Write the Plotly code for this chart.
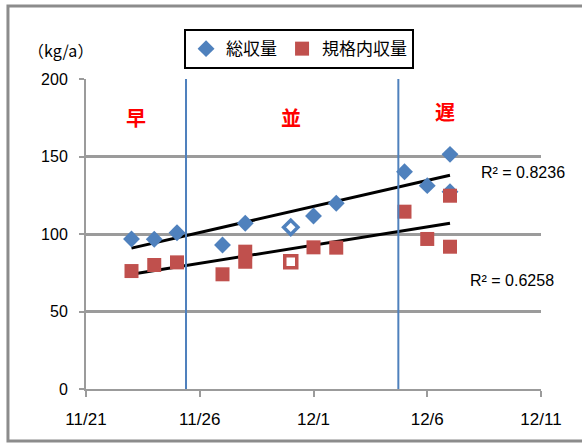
import numpy as np
import pandas as pd
import plotly.graph_objects as go

# --- data -----------------------------------------------------------------
YEAR = 2013
total_dates = ["11-23", "11-24", "11-25", "11-27", "11-28", "12-01", "12-02",
               "12-05", "12-06", "12-07", "12-07"]
total_yield = [96.8, 96.6, 100.8, 92.9, 106.9, 111.6, 119.8,
               140.2, 131.2, 151.4, 127.3]

std_dates = ["11-23", "11-24", "11-25", "11-27", "11-28", "11-28", "12-01",
             "12-02", "12-05", "12-06", "12-07", "12-07"]
std_yield = [76.1, 80.0, 81.7, 74.0, 88.6, 82.1, 91.4,
             91.2, 114.4, 96.8, 124.7, 91.8]

# reference plot (open markers)
ref_date = "11-30"
ref_total = 104.3
ref_std = 82.1

r2_total = "R² = 0.8236"
r2_std = "R² = 0.6258"

tick_dates = ["11-21", "11-26", "12-01", "12-06", "12-11"]
tick_labels = ["11/21", "11/26", "12/1", "12/6", "12/11"]

# boundaries between early / normal / late groups
group_bounds = ["11-25 09:30", "12-04 17:30"]
group_names = ["早", "並", "遅"]
group_label_pos = [("11-23 05:00", 175), ("11-30 00:00", 175), ("12-06 19:00", 179)]

y_ticks = [0, 50, 100, 150, 200]


def to_dt(s):
    return pd.Timestamp(f"{YEAR}-{s}")


BLUE = "#4F81BD"
RED = "#C0504D"
GRID = "#9B9B9B"
TICK_FONT = "Liberation Sans, Arial, sans-serif"
JP_FONT = "Noto Sans CJK JP, sans-serif"

tx = [to_dt(d) for d in total_dates]
sx = [to_dt(d) for d in std_dates]
origin = to_dt("11-21")


def trend(xs, ys):
    days = np.array([(x - origin) / pd.Timedelta(days=1) for x in xs])
    k, b = np.polyfit(days, np.array(ys), 1)
    d0, d1 = days.min(), days.max()
    return ([origin + pd.Timedelta(days=d0), origin + pd.Timedelta(days=d1)],
            [k * d0 + b, k * d1 + b])


fig = go.Figure()

# linear trend lines
for xs, ys in [(tx, total_yield), (sx, std_yield)]:
    lx, ly = trend(xs, ys)
    fig.add_trace(go.Scatter(x=lx, y=ly, mode="lines",
                             line=dict(color="black", width=3),
                             showlegend=False, hoverinfo="skip"))

fig.add_trace(go.Scatter(x=tx, y=total_yield, mode="markers", name="総収量",
                         marker=dict(symbol="diamond", size=13, color=BLUE)))
fig.add_trace(go.Scatter(x=sx, y=std_yield, mode="markers", name="規格内収量",
                         marker=dict(symbol="square", size=14, color=RED)))

fig.add_trace(go.Scatter(x=[to_dt(ref_date)], y=[ref_total], mode="markers",
                         showlegend=False,
                         marker=dict(symbol="diamond", size=11, color="white",
                                     line=dict(color=BLUE, width=3.5))))
fig.add_trace(go.Scatter(x=[to_dt(ref_date)], y=[ref_std], mode="markers",
                         showlegend=False,
                         marker=dict(symbol="square", size=12, color="white",
                                     line=dict(color=RED, width=3.5))))

shapes = []
for b in group_bounds:
    shapes.append(dict(type="line", xref="x", yref="y",
                       x0=to_dt(b), x1=to_dt(b), y0=0, y1=200,
                       line=dict(color=BLUE, width=2), layer="above"))

# outer frame (right edge runs off the page)
shapes.append(dict(type="rect", xref="paper", yref="paper",
                   x0=-0.1715, x1=1.25, y0=-0.1677, y1=1.2355,
                   line=dict(color="#8C8C8C", width=3), layer="below"))

annotations = []
for name, (d, yv) in zip(group_names, group_label_pos):
    annotations.append(dict(x=to_dt(d), y=yv, xref="x", yref="y", text=f"<b>{name}</b>",
                            showarrow=False, xanchor="center", yanchor="middle",
                            font=dict(family=JP_FONT, size=20, color="#FF0000")))

annotations.append(dict(x=to_dt("12-10 05:30"), y=139.4, xref="x", yref="y",
                        text=r2_total, showarrow=False,
                        xanchor="center", yanchor="middle",
                        font=dict(family=TICK_FONT, size=16, color="black")))
annotations.append(dict(x=to_dt("12-09 17:00"), y=69.7, xref="x", yref="y",
                        text=r2_std, showarrow=False,
                        xanchor="center", yanchor="middle",
                        font=dict(family=TICK_FONT, size=16, color="black")))
annotations.append(dict(x=-0.057, y=1.094, xref="paper", yref="paper",
                        text="（kg/a）", showarrow=False,
                        xanchor="center", yanchor="middle",
                        font=dict(family=JP_FONT, size=16, color="black")))

fig.update_layout(
    width=582, height=443,
    margin=dict(l=86, r=41, t=79, b=54),
    paper_bgcolor="white", plot_bgcolor="white",
    showlegend=True,
    legend=dict(orientation="h", x=0.2155, y=1.161, xanchor="left", yanchor="top",
                bordercolor="black", borderwidth=2, bgcolor="white",
                font=dict(family=JP_FONT, size=17, color="black"),
                itemwidth=30, tracegroupgap=0),
    shapes=shapes,
    annotations=annotations,
)

fig.update_xaxes(
    type="date",
    range=[to_dt("11-21"), to_dt("12-11")],
    tickvals=[to_dt(d) for d in tick_dates], ticktext=tick_labels,
    showgrid=False, zeroline=False,
    showline=True, linecolor=GRID, linewidth=2,
    ticks="outside", ticklen=6, tickwidth=2, tickcolor=GRID,
    ticklabelstandoff=8,
    tickfont=dict(family=TICK_FONT, size=17, color="black"),
)
fig.update_yaxes(
    range=[0, 200], tickvals=y_ticks,
    showgrid=True, gridcolor=GRID, gridwidth=2.5, zeroline=False,
    showline=True, linecolor=GRID, linewidth=2,
    ticks="outside", ticklen=5, tickwidth=2, tickcolor=GRID,
    ticklabelstandoff=8,
    tickfont=dict(family=TICK_FONT, size=16, color="black"),
)

fig.write_html("out.html")
